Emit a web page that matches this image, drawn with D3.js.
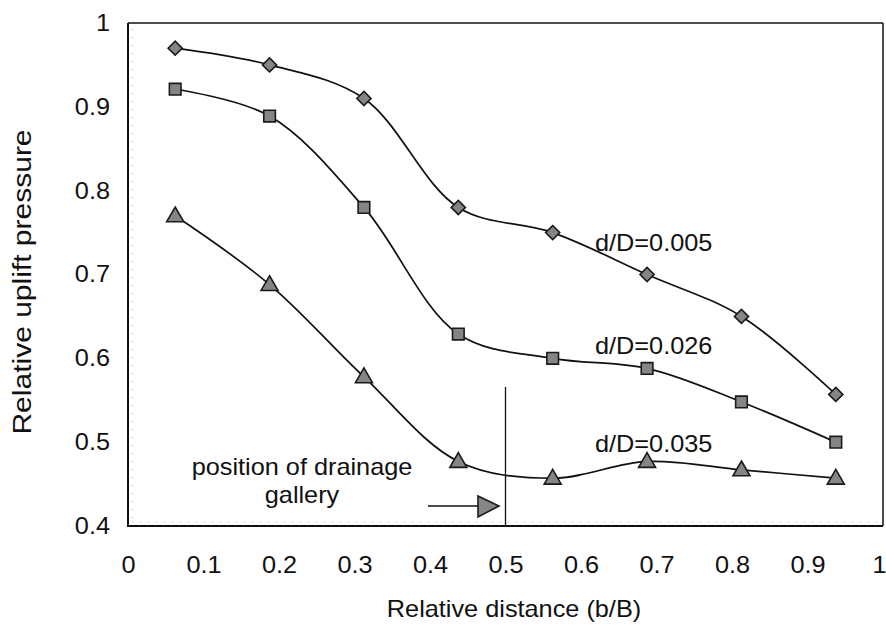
<!DOCTYPE html>
<html>
<head>
<meta charset="utf-8">
<script src="https://cdn.jsdelivr.net/npm/d3@7"></script>
<style>
  html, body { margin: 0; padding: 0; background: #fff; }
  text { font-family: "Liberation Sans", Arial, sans-serif; fill: #111; }
</style>
</head>
<body>
<svg id="chart" width="886" height="626"></svg>
<script>
// ---- data ----
const xPositions = [0.0625, 0.1875, 0.3125, 0.4375, 0.5625, 0.6875, 0.8125, 0.9375];
const seriesNames = ["d/D=0.005", "d/D=0.026", "d/D=0.035"];
const series005 = [0.97, 0.95, 0.91, 0.78, 0.75, 0.70, 0.65, 0.557];
const series026 = [0.921, 0.889, 0.78, 0.629, 0.60, 0.588, 0.548, 0.50];
const series035 = [0.77, 0.688, 0.578, 0.477, 0.457, 0.477, 0.467, 0.457];
const xTicks = [0, 0.1, 0.2, 0.3, 0.4, 0.5, 0.6, 0.7, 0.8, 0.9, 1];
const yTicks = [0.4, 0.5, 0.6, 0.7, 0.8, 0.9, 1];
const drainPosition = 0.5;

// ---- layout ----
const svg = d3.select("#chart");
const L = 128, R = 883, T = 23, B = 526;
const x = d3.scaleLinear().domain([0, 1]).range([L, R]);
const y = d3.scaleLinear().domain([0.4, 1]).range([B, T]);
const FS = 23, SX = 1.1;
const FONT = '"Liberation Sans", Arial, sans-serif';

function label(g, tx, ty, str, anchor) {
  return g.append("text")
    .attr("transform", `translate(${tx},${ty}) scale(${SX},1)`)
    .attr("text-anchor", anchor || "start")
    .style("font-size", FS + "px")
    .text(str);
}

// frame
svg.append("line").attr("x1", L).attr("x2", R).attr("y1", T).attr("y2", T).attr("stroke", "#111").attr("stroke-width", 1.5);
svg.append("line").attr("x1", R).attr("x2", R).attr("y1", T).attr("y2", B).attr("stroke", "#111").attr("stroke-width", 1.5);
svg.append("line").attr("x1", L).attr("x2", L).attr("y1", T).attr("y2", B + 1).attr("stroke", "#111").attr("stroke-width", 2);
svg.append("line").attr("x1", L).attr("x2", R).attr("y1", B).attr("y2", B).attr("stroke", "#111").attr("stroke-width", 2);
// faint scan dotted marks inside frame
svg.append("line").attr("x1", L + 4).attr("x2", L + 4).attr("y1", T + 6).attr("y2", B - 4).attr("stroke", "#aaa").attr("stroke-width", 1).attr("stroke-dasharray", "1,7");
svg.append("line").attr("x1", L + 4).attr("x2", R - 4).attr("y1", B - 4).attr("y2", B - 4).attr("stroke", "#aaa").attr("stroke-width", 1).attr("stroke-dasharray", "1,7");

// axis tick labels (axis generators, no tick lines)
const gx = svg.append("g").attr("transform", `translate(0,${B})`)
  .call(d3.axisBottom(x).tickValues(xTicks).tickSize(0).tickFormat(d => d === 0 ? "0" : d === 1 ? "1" : d3.format(".1f")(d)));
gx.select(".domain").remove();
gx.selectAll("text").attr("dy", null).attr("y", 47)
  .style("font-size", FS + "px").style("font-family", FONT).attr("fill", "#111")
  .attr("transform", `scale(${SX},1)`)
  .attr("text-anchor", d => d === 1 ? "end" : "middle")
  .attr("x", d => d === 1 ? 3 / SX : 0);
const gy = svg.append("g").attr("transform", `translate(${L},0)`)
  .call(d3.axisLeft(y).tickValues(yTicks).tickSize(0).tickFormat(d => d === 1 ? "1" : d3.format(".1f")(d)));
gy.select(".domain").remove();
gy.selectAll("text").attr("x", -18 / SX).attr("dy", "0.32em")
  .style("font-size", FS + "px").style("font-family", FONT).attr("fill", "#111")
  .attr("transform", `scale(${SX},1)`);

// axis titles
label(svg, 514, 617, "Relative distance (b/B)", "middle");
svg.append("text")
  .attr("transform", `translate(31,282) rotate(-90) scale(1.2,1)`)
  .attr("text-anchor", "middle").style("font-size", "25px")
  .text("Relative uplift pressure");

// series lines
const allSeries = [series005, series026, series035];
const line = d3.line().x((d, i) => x(xPositions[i])).y(d => y(d)).curve(d3.curveCatmullRom.alpha(0.5));
allSeries.forEach(s => {
  svg.append("path").datum(s).attr("d", line).attr("fill", "none").attr("stroke", "#111").attr("stroke-width", 1.7);
});

// markers
const fillC = "#858585", strokeC = "#1a1a1a";
const symTypes = [d3.symbolSquare, d3.symbolSquare, d3.symbolTriangle];
const sizes = [100, 135, 125];
allSeries.forEach((s, k) => {
  svg.append("g").selectAll("path").data(s).join("path")
    .attr("d", d3.symbol().type(symTypes[k]).size(sizes[k])())
    .attr("transform", (d, i) => `translate(${x(xPositions[i])},${y(d) + (k === 2 ? 1 : 0)})` + (k === 0 ? " rotate(45)" : ""))
    .attr("fill", fillC).attr("stroke", strokeC).attr("stroke-width", 1.6);
});

// series labels
label(svg, 595, 251, seriesNames[0]);
label(svg, 595, 354, seriesNames[1]);
label(svg, 595, 452, seriesNames[2]);

// drainage gallery marker
svg.append("line").attr("x1", x(drainPosition)).attr("x2", x(drainPosition))
  .attr("y1", 387).attr("y2", B).attr("stroke", "#111").attr("stroke-width", 1.3);
svg.append("line").attr("x1", 428).attr("x2", 482).attr("y1", 506).attr("y2", 506).attr("stroke", "#111").attr("stroke-width", 1.6);
svg.append("path").attr("d", "M478,496 L499,506 L478,517 Z").attr("fill", fillC).attr("stroke", strokeC).attr("stroke-width", 1.6);
label(svg, 302, 475, "position of drainage", "middle");
label(svg, 302, 503, "gallery", "middle");
</script>
</body>
</html>
